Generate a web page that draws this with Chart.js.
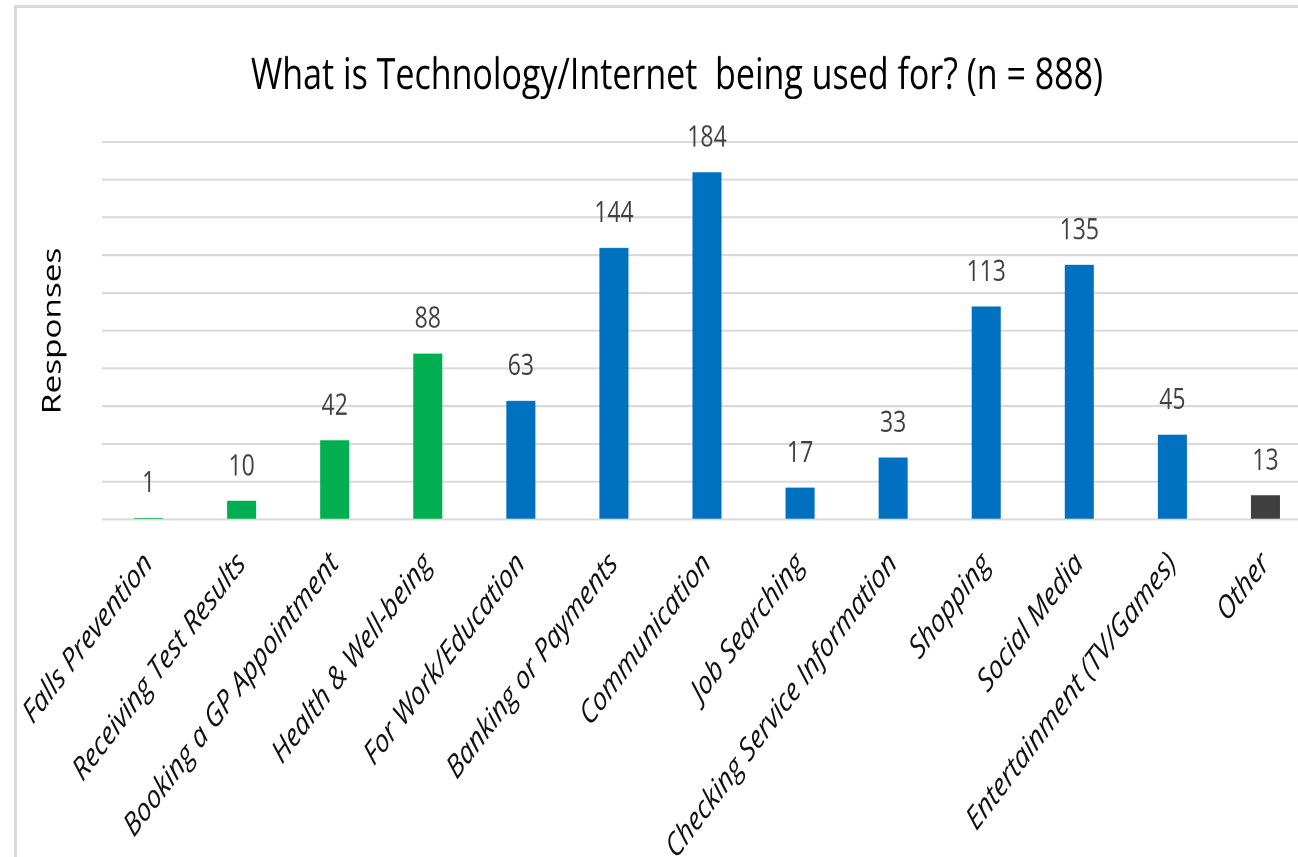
<!DOCTYPE html>
<html>
<head>
<meta charset="utf-8">
<script src="https://cdn.jsdelivr.net/npm/chart.js@4/dist/chart.umd.min.js"></script>
<style>
  html, body { margin: 0; padding: 0; background: #fff; overflow: hidden; }
  body { width: 1298px; height: 857px; position: relative; }
  #frame {
    position: absolute; left: 14px; top: 5px; width: 1400px; height: 900px;
    border: 3px solid #d9d9d9; box-sizing: border-box;
  }
  /* the source picture is stretched vertically, so the chart is too */
  #wrap {
    position: absolute; left: 0; top: 0; width: 1354px; height: 670px;
    transform: scaleY(1.28); transform-origin: 0 0;
  }
</style>
</head>
<body>
<div id="frame"></div>
<div id="wrap"><canvas id="chart"></canvas></div>
<script>
const categories = [
    'Falls Prevention', 'Receiving Test Results', 'Booking a GP Appointment',
    'Health & Well-being', 'For Work/Education', 'Banking or Payments',
    'Communication', 'Job Searching', 'Checking Service Information',
    'Shopping', 'Social Media', 'Entertainment (TV/Games)', 'Other'
];
const responses = [1, 10, 42, 88, 63, 144, 184, 17, 33, 113, 135, 45, 13];
const yTicks = [0, 20, 40, 60, 80, 100, 120, 140, 160, 180, 200];

const green = '#00b050';
const blue = '#0070c0';
const grey = '#404040';
const barColors = [green, green, green, green, blue, blue, blue, blue, blue, blue, blue, blue, grey];

const FONT = "'Open Sans', 'Noto Sans', sans-serif";

// values above the bars
const valueLabels = {
    id: 'valueLabels',
    afterDatasetsDraw(chart) {
        const ctx = chart.ctx;
        const meta = chart.getDatasetMeta(0);
        ctx.save();
        ctx.font = '23px ' + FONT;
        ctx.fillStyle = '#404040';
        ctx.textAlign = 'center';
        ctx.textBaseline = 'alphabetic';
        meta.data.forEach((bar, i) => {
            ctx.fillText(String(responses[i]), bar.x, bar.y - 20);
        });
        ctx.restore();
    }
};

const ctx = document.getElementById('chart').getContext('2d');

const chart = new Chart(ctx, {
    type: 'bar',
    data: {
        labels: categories,
        datasets: [{
            label: 'Responses',
            data: responses,
            backgroundColor: barColors,
            borderWidth: 0,
            barPercentage: 0.312,
            categoryPercentage: 1
        }]
    },
    options: {
        responsive: true,
        maintainAspectRatio: false,
        devicePixelRatio: 2,
        animation: false,
        layout: { padding: 0 },
        plugins: {
            legend: { display: false },
            tooltip: { enabled: false },
            title: {
                display: true,
                text: 'What is Technology/Internet  being used for? (n = 888)',
                color: '#000',
                font: { family: FONT, size: 34, weight: 'normal' },
                padding: { top: 39.4, bottom: 30.8 }
            }
        },
        scales: {
            x: {
                grid: { display: false },
                border: { display: false },
                ticks: {
                    color: '#111',
                    font: { family: FONT, size: 25, style: 'italic' },
                    autoSkip: false,
                    minRotation: 46,
                    maxRotation: 46,
                    padding: 12
                },
                afterFit(scale) {
                    scale.height = 264;
                    scale.paddingLeft = 0;
                    // plot runs past the right edge of the picture; keeps the title centred on the full width
                    scale.paddingRight = 42;
                }
            },
            y: {
                min: yTicks[0],
                max: yTicks[yTicks.length - 1],
                afterBuildTicks(scale) {
                    scale.ticks = yTicks.map(v => ({ value: v }));
                },
                ticks: { display: false },
                grid: { color: '#d9d9d9', lineWidth: 1.6, drawTicks: false },
                border: { display: false },
                title: {
                    display: true,
                    text: 'Responses',
                    color: '#000',
                    font: { family: FONT, size: 26 },
                    padding: { top: 37.4, bottom: 0 }
                },
                afterFit(scale) {
                    scale.width = 102;
                }
            }
        }
    },
    plugins: [valueLabels]
});
</script>
</body>
</html>
